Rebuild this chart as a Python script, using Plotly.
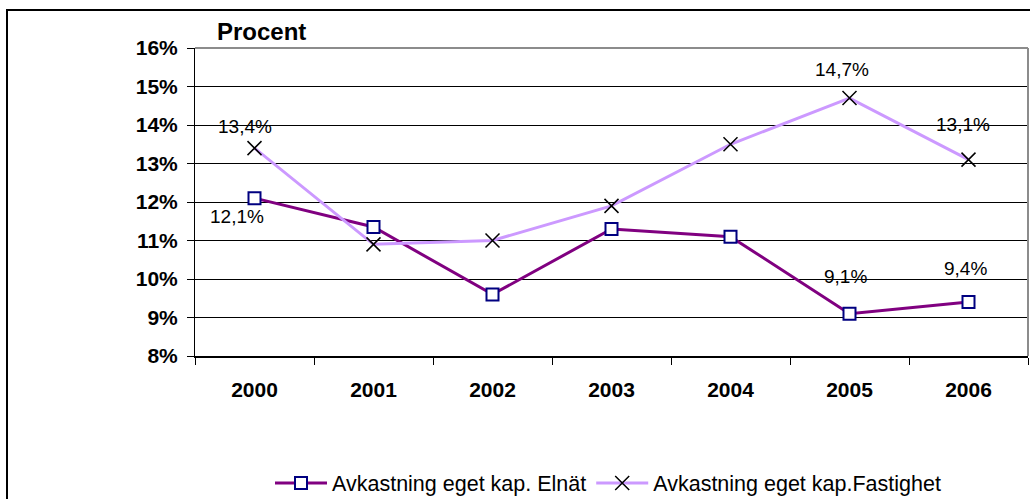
import plotly.graph_objects as go

# Return on equity per year, percent
years = ["2000", "2001", "2002", "2003", "2004", "2005", "2006"]
elnat = [12.1, 11.35, 9.6, 11.3, 11.1, 9.1, 9.4]
fastighet = [13.4, 10.9, 11.0, 11.9, 13.5, 14.7, 13.1]
y_ticks = [8, 9, 10, 11, 12, 13, 14, 15, 16]
y_tick_text = [f"{v}%" for v in y_ticks]

name_elnat = "Avkastning eget kap. Elnät"
name_fastighet = "Avkastning eget kap.Fastighet"

W, H = 1030, 499
ML, MR, MT, MB = 195, 2, 48, 143
PW, PH = W - ML - MR, H - MT - MB

FONT = "Liberation Sans, Arial, sans-serif"


def px_x(p):
    return (p - ML) / PW


def px_y(p):
    return (H - MB - p) / PH


def pct_label(v):
    return f"{v:.1f}%".replace(".", ",")


fig = go.Figure()

fig.add_trace(go.Scatter(
    x=years, y=elnat, name=name_elnat, mode="lines+markers",
    line=dict(color="#800080", width=3),
    marker=dict(symbol="square", size=12, color="white",
                line=dict(color="#000080", width=2)),
    cliponaxis=False,
))
fig.add_trace(go.Scatter(
    x=years, y=fastighet, name=name_fastighet, mode="lines+markers",
    line=dict(color="#CC99FF", width=3),
    marker=dict(symbol="x-thin", size=14, color="black",
                line=dict(color="black", width=1.5)),
    cliponaxis=False,
))

# value labels: (series values, index, x shift px, y shift px)
labelled = [
    (fastighet, 0, -10, 22),
    (elnat, 0, -18, -18),
    (fastighet, 5, -8, 29),
    (fastighet, 6, -6, 35),
    (elnat, 5, -4, 37),
    (elnat, 6, -3, 34),
]
for series, i, dx, dy in labelled:
    fig.add_annotation(
        x=i, y=series[i], xref="x", yref="y",
        text=pct_label(series[i]), showarrow=False,
        xshift=dx, yshift=dy,
        font=dict(family=FONT, size=19, color="black"),
    )

# axis caption
fig.add_annotation(
    x=px_x(215), y=px_y(32), xref="paper", yref="paper",
    text="<b>Procent</b>", showarrow=False, xanchor="left", yanchor="middle",
    font=dict(family=FONT, size=24, color="black"),
)

# outer chart frame
fig.add_shape(type="rect", xref="paper", yref="paper",
              x0=px_x(7), y0=px_y(520), x1=px_x(1040), y1=px_y(10),
              line=dict(color="black", width=2), fillcolor="rgba(0,0,0,0)",
              layer="below")
# plot area frame (top and right)
fig.add_shape(type="line", xref="paper", yref="paper",
              x0=0, y0=1, x1=1, y1=1, line=dict(color="#8c8c8c", width=2))
fig.add_shape(type="line", xref="paper", yref="paper",
              x0=1, y0=0, x1=1, y1=1, line=dict(color="#8c8c8c", width=2))

fig.update_layout(
    width=W, height=H,
    margin=dict(l=ML, r=MR, t=MT, b=MB, pad=0, autoexpand=False),
    paper_bgcolor="white", plot_bgcolor="white",
    font=dict(family=FONT, color="black"),
    showlegend=True,
    legend=dict(
        orientation="h", x=px_x(270), y=px_y(483),
        xanchor="left", yanchor="middle",
        font=dict(family=FONT, size=21.5, color="black"),
        bgcolor="rgba(0,0,0,0)", itemwidth=52,
        traceorder="normal",
    ),
    xaxis=dict(
        type="category", range=[-0.5, 6.5], automargin=False,
        showgrid=False, showline=True, linecolor="black", linewidth=2,
        ticks="outside", ticklen=7, tickcolor="black", tickwidth=1,
        tickson="boundaries", ticklabelstandoff=14,
        tickfont=dict(family=FONT, size=21, color="black", weight="bold"),
        zeroline=False, fixedrange=True,
    ),
    yaxis=dict(
        range=[8, 16], tickvals=y_ticks, ticktext=y_tick_text, automargin=False,
        showgrid=True, gridcolor="black", gridwidth=1,
        showline=True, linecolor="black", linewidth=1,
        ticks="outside", ticklen=7, tickcolor="black", tickwidth=1,
        ticklabelstandoff=5,
        tickfont=dict(family=FONT, size=21, color="black", weight="bold"),
        zeroline=False, fixedrange=True,
    ),
)

fig.write_html("out.html")
